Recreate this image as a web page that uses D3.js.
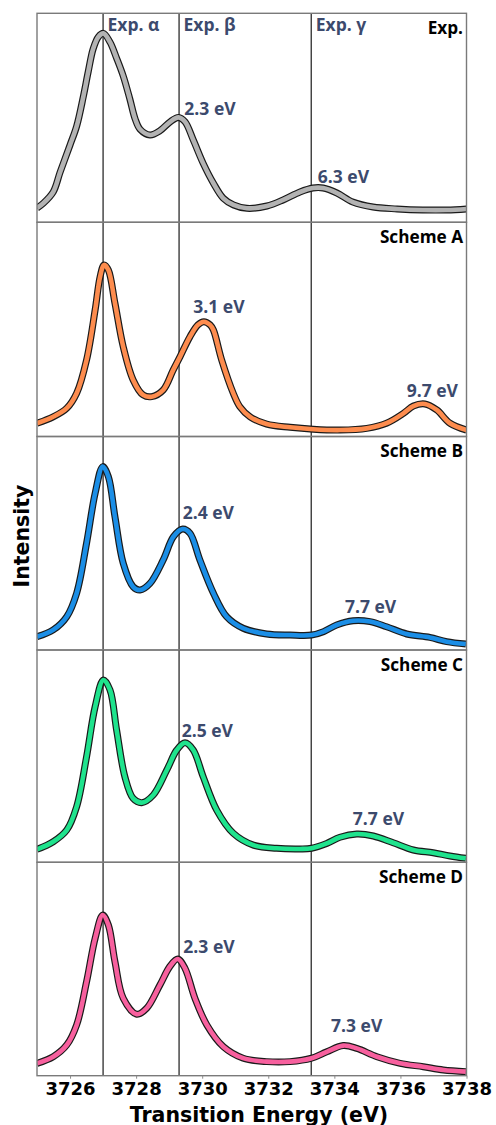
<!DOCTYPE html>
<html><head><meta charset="utf-8">
<script src="https://cdn.jsdelivr.net/npm/d3@7"></script>
<style>html,body{margin:0;padding:0;background:#fff;}svg{display:block;}</style>
</head><body>
<script>
// ---------- data ----------
const panelNames = ["Exp.", "Scheme A", "Scheme B", "Scheme C", "Scheme D"];
const panelColors = ["#b3b3b3", "#fd8c4e", "#1b8ee6", "#1fe38d", "#f7609e"];
const refLines = [3727.0, 3729.3, 3733.3];
const refLabels = ["Exp. α", "Exp. β", "Exp. γ"];
const xTicks = [3726, 3728, 3730, 3732, 3734, 3736, 3738];

const expCurve = [[3725.0,0.068],[3725.19,0.091],[3725.49,0.145],[3725.70,0.240],[3726.0,0.370],[3726.20,0.460],[3726.40,0.600],[3726.55,0.720],[3726.70,0.830],[3726.86,0.888],[3727.01,0.904],[3727.21,0.862],[3727.41,0.785],[3727.61,0.700],[3727.81,0.590],[3727.97,0.495],[3728.12,0.445],[3728.42,0.418],[3728.72,0.438],[3729.03,0.481],[3729.28,0.502],[3729.48,0.481],[3729.73,0.394],[3730.03,0.282],[3730.34,0.187],[3730.64,0.115],[3730.95,0.083],[3731.35,0.067],[3731.96,0.078],[3732.45,0.107],[3732.96,0.145],[3733.35,0.164],[3733.66,0.164],[3734.08,0.140],[3734.56,0.097],[3735.17,0.073],[3735.90,0.064],[3736.68,0.059],[3737.41,0.059],[3738.0,0.064]];
const schemeA = [[3725.0,0.062],[3725.49,0.092],[3725.90,0.132],[3726.20,0.202],[3726.50,0.357],[3726.76,0.591],[3726.91,0.746],[3727.03,0.801],[3727.16,0.777],[3727.36,0.622],[3727.61,0.419],[3727.91,0.264],[3728.21,0.194],[3728.47,0.186],[3728.82,0.217],[3729.12,0.310],[3729.33,0.373],[3729.63,0.466],[3729.87,0.521],[3730.05,0.536],[3730.24,0.521],[3730.34,0.497],[3730.59,0.357],[3730.94,0.202],[3731.14,0.139],[3731.45,0.092],[3731.95,0.058],[3732.66,0.043],[3733.36,0.034],[3734.17,0.030],[3734.98,0.038],[3735.58,0.062],[3736.09,0.108],[3736.39,0.142],[3736.74,0.152],[3737.10,0.124],[3737.50,0.062],[3738.0,0.030]];
const schemeB = [[3725.0,0.062],[3725.49,0.094],[3725.90,0.156],[3726.20,0.266],[3726.50,0.500],[3726.76,0.734],[3726.99,0.859],[3727.16,0.812],[3727.36,0.624],[3727.61,0.406],[3727.91,0.296],[3728.12,0.281],[3728.42,0.312],[3728.82,0.422],[3729.13,0.531],[3729.41,0.567],[3729.63,0.547],[3729.93,0.422],[3730.34,0.266],[3730.74,0.156],[3731.24,0.102],[3731.95,0.075],[3732.66,0.070],[3733.31,0.070],[3733.67,0.086],[3734.07,0.117],[3734.57,0.137],[3735.08,0.133],[3735.58,0.109],[3736.19,0.075],[3736.89,0.059],[3737.40,0.039],[3737.98,0.028]];
const schemeC = [[3725.0,0.061],[3725.49,0.097],[3725.90,0.152],[3726.20,0.262],[3726.50,0.497],[3726.76,0.733],[3727.01,0.859],[3727.21,0.812],[3727.41,0.623],[3727.66,0.403],[3727.91,0.301],[3728.17,0.281],[3728.52,0.317],[3728.93,0.435],[3729.23,0.529],[3729.48,0.563],[3729.73,0.529],[3730.03,0.403],[3730.44,0.246],[3730.94,0.137],[3731.55,0.081],[3732.25,0.066],[3732.96,0.063],[3733.31,0.066],[3733.77,0.089],[3734.17,0.118],[3734.68,0.133],[3735.18,0.124],[3735.78,0.092],[3736.39,0.058],[3736.99,0.045],[3737.50,0.030],[3737.98,0.019]];
const schemeD = [[3725.0,0.058],[3725.49,0.089],[3725.90,0.144],[3726.20,0.238],[3726.50,0.440],[3726.76,0.644],[3726.99,0.753],[3727.16,0.706],[3727.36,0.534],[3727.61,0.363],[3728.02,0.288],[3728.32,0.316],[3728.72,0.425],[3729.03,0.514],[3729.26,0.547],[3729.48,0.503],[3729.78,0.363],[3730.14,0.238],[3730.64,0.136],[3731.24,0.082],[3731.95,0.066],[3732.66,0.066],[3733.31,0.082],[3733.77,0.112],[3734.27,0.141],[3734.68,0.128],[3735.29,0.089],[3735.99,0.058],[3736.69,0.042],[3737.30,0.027],[3737.98,0.019]];
const curves = [expCurve, schemeA, schemeB, schemeC, schemeD];

// peak-splitting annotations: [panel, energy, intensity, text]
const annotations = [
  [0, 3729.46, 0.513, "2.3 eV"], [0, 3733.50, 0.189, "6.3 eV"],
  [1, 3729.73, 0.577, "3.1 eV"], [1, 3736.19, 0.186, "9.7 eV"],
  [2, 3729.41, 0.612, "2.4 eV"], [2, 3734.32, 0.175, "7.7 eV"],
  [3, 3729.38, 0.592, "2.5 eV"], [3, 3734.56, 0.176, "7.7 eV"],
  [4, 3729.43, 0.574, "2.3 eV"], [4, 3733.90, 0.203, "7.3 eV"]
];

// ---------- layout ----------
const W = 496, H = 1125;
const left = 37, right = 466.5;
const panelEdges = [13.3, 222.3, 436.5, 650, 862.3, 1075.7];

const svg = d3.select("body").append("svg").attr("width", W).attr("height", H);
const x = d3.scaleLinear().domain([3725, 3738]).range([left, right]);

const annFont = "'Open Sans', sans-serif";
const annColor = "#3c4a6d";

panelNames.forEach((name, i) => {
  const top = panelEdges[i], bot = panelEdges[i + 1];
  const y = d3.scaleLinear().domain([0, 1]).range([bot, top]);
  const g = svg.append("g");
  const clipId = "clip" + i;
  g.append("clipPath").attr("id", clipId).append("rect")
    .attr("x", left).attr("y", top).attr("width", right - left).attr("height", bot - top);

  // reference lines
  g.selectAll("line.ref").data(refLines).enter().append("line")
    .attr("x1", d => x(d)).attr("x2", d => x(d)).attr("y1", top).attr("y2", bot)
    .attr("stroke", "#1a1a1a").attr("stroke-width", 1.2);

  const line = d3.line().x(d => x(d[0])).y(d => y(d[1])).curve(d3.curveCatmullRom.alpha(0.5));
  const cg = g.append("g").attr("clip-path", `url(#${clipId})`);
  cg.append("path").datum(curves[i]).attr("d", line).attr("fill", "none")
    .attr("stroke", "#1a1a1a").attr("stroke-width", 7).attr("stroke-linejoin", "round").attr("stroke-linecap", "butt");
  cg.append("path").datum(curves[i]).attr("d", line).attr("fill", "none")
    .attr("stroke", panelColors[i]).attr("stroke-width", 4.6).attr("stroke-linejoin", "round");

  // frame
  g.append("rect").attr("x", left).attr("y", top).attr("width", right - left).attr("height", bot - top)
    .attr("fill", "none").attr("stroke", "#7a7a7a").attr("stroke-width", 1.4);

  // panel name
  g.append("text").attr("x", right - 3.5).attr("y", top + 20.5).attr("text-anchor", "end")
    .attr("font-family", annFont).attr("font-weight", 700).attr("font-size", 17.2)
    .attr("fill", "#000").text(name);

  // annotations
  annotations.filter(a => a[0] === i).forEach(a => {
    g.append("text").attr("x", x(a[1])).attr("y", y(a[2]))
      .attr("font-family", annFont).attr("font-weight", 700).attr("font-size", 17.5)
      .attr("fill", annColor).text(a[3]);
  });

  if (i === 0) {
    refLines.forEach((r, k) => {
      g.append("text").attr("x", x(r) + 4.5).attr("y", top + 17.4)
        .attr("font-family", annFont).attr("font-weight", 700).attr("font-size", 17.5)
        .attr("fill", annColor).text(refLabels[k]);
    });
  }

  if (i === panelNames.length - 1) {
    const ax = svg.append("g").attr("transform", `translate(0,${bot})`)
      .call(d3.axisBottom(x).tickValues(xTicks).tickSize(3).tickPadding(4).tickFormat(d3.format("d")));
    ax.select(".domain").remove();
    ax.selectAll(".tick line").attr("stroke", "#8a8a8a");
    ax.selectAll(".tick text").attr("font-family", "'DejaVu Sans', sans-serif")
      .attr("font-weight", 700).attr("font-size", 18).attr("fill", "#000");
  }
});

svg.append("text").attr("x", 259).attr("y", 1121.5).attr("text-anchor", "middle")
  .attr("font-family", "'DejaVu Sans', sans-serif").attr("font-weight", 700).attr("font-size", 20.5)
  .text("Transition Energy (eV)");
svg.append("text").attr("transform", "translate(29,536) rotate(-90)").attr("text-anchor", "middle")
  .attr("font-family", "'DejaVu Sans', sans-serif").attr("font-weight", 700).attr("font-size", 20.5)
  .text("Intensity");
</script>
</body></html>
